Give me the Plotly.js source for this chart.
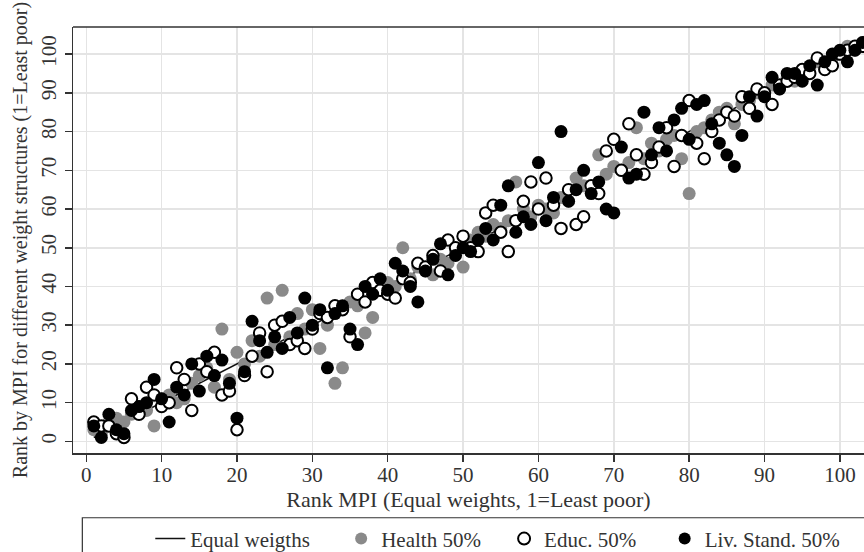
<!DOCTYPE html>
<html>
<head>
<meta charset="utf-8">
<script src="https://cdn.plot.ly/plotly-3.0.1.min.js"></script>
<style>
  body { margin: 0; background: #fff; }
  #chart { width: 864px; height: 552px; }
</style>
</head>
<body>
<div id="chart"></div>
<script>
// rank of each country under equal weights (1 = least poor)
var rank = [
    1,  2,  3,  4,  5,  6,  7,  8,  9, 10,
   11, 12, 13, 14, 15, 16, 17, 18, 19, 20,
   21, 22, 23, 24, 25, 26, 27, 28, 29, 30,
   31, 32, 33, 34, 35, 36, 37, 38, 39, 40,
   41, 42, 43, 44, 45, 46, 47, 48, 49, 50,
   51, 52, 53, 54, 55, 56, 57, 58, 59, 60,
   61, 62, 63, 64, 65, 66, 67, 68, 69, 70,
   71, 72, 73, 74, 75, 76, 77, 78, 79, 80,
   81, 82, 83, 84, 85, 86, 87, 88, 89, 90,
   91, 92, 93, 94, 95, 96, 97, 98, 99,100,
  101,102,103,104
];

// rank under the other weight structures
var health = [
    3,  2,  5,  6,  5,  7,  9,  8,  4, 11,
   12, 10, 11, 15, 17, 19, 14, 29, 16, 23,
   20, 26, 22, 37, 25, 39, 27, 33, 29, 34,
   24, 30, 15, 19, 36, 35, 28, 32, 39, 41,
   40, 50, 42, 45, 44, 43, 47, 46, 49, 45,
   52, 54, 53, 56, 55, 57, 67, 60, 58, 61,
   60, 59, 63, 62, 68, 66, 65, 74, 69, 71,
   70, 72, 81, 73, 77, 75, 78, 79, 73, 64,
   80, 81, 83, 85, 86, 82, 87, 88, 90, 89,
   92, 91, 94, 93, 95, 96, 98, 97, 99,100,
  102,101,103,104
];
var educ = [
    5,  4,  4,  2,  1, 11,  7, 14, 12,  9,
   10, 19, 16,  8, 20, 18, 23, 12, 13,  3,
   17, 22, 28, 18, 30, 31, 25, 26, 24, 29,
   33, 32, 35, 34, 27, 38, 36, 41, 39, 38,
   37, 42, 41, 46, 45, 48, 44, 52, 50, 53,
   50, 49, 59, 61, 54, 49, 57, 62, 67, 60,
   68, 61, 55, 65, 56, 58, 66, 64, 75, 78,
   70, 82, 74, 69, 72, 76, 81, 71, 79, 88,
   77, 73, 80, 83, 85, 84, 89, 86, 91, 90,
   87, 92, 93, 94, 96, 95, 99, 96, 97,100,
  101,102,102,104
];
var livstand = [
    4,  1,  7,  3,  2,  8,  9, 10, 16, 11,
    5, 14, 12, 20, 13, 22, 17, 21, 15,  6,
   18, 31, 26, 23, 27, 24, 32, 28, 37, 30,
   34, 19, 33, 35, 29, 25, 40, 38, 42, 39,
   46, 44, 40, 36, 44, 47, 51, 43, 48, 50,
   49, 52, 55, 52, 61, 66, 54, 58, 56, 72,
   57, 63, 80, 62, 65, 70, 64, 67, 60, 59,
   76, 68, 69, 85, 74, 81, 75, 83, 86, 78,
   87, 88, 82, 77, 74, 71, 79, 89, 84, 89,
   94, 91, 95, 95, 93, 97, 92, 98,100,101,
   98,101,103,104
];

var serif = 'Liberation Serif, Times New Roman, serif';
var ink = '#333333';

// diagonal: equal weights ranked against itself
var trace1 = {
  x: rank, y: rank,
  type: 'scatter', mode: 'lines',
  name: 'Equal weigths',
  line: {color: '#111', width: 1.5},
  legend: 'legend'
};
var trace2 = {
  x: rank, y: health,
  type: 'scatter', mode: 'markers',
  name: 'Health 50%',
  marker: {color: '#8a8a8a', size: 13},
  legend: 'legend2'
};
var trace3 = {
  x: rank, y: educ,
  type: 'scatter', mode: 'markers',
  name: 'Educ. 50%',
  marker: {color: '#fff', size: 11.5, line: {color: '#000', width: 2}},
  legend: 'legend3'
};
var trace4 = {
  x: rank, y: livstand,
  type: 'scatter', mode: 'markers',
  name: 'Liv. Stand. 50%',
  marker: {color: '#000', size: 13},
  legend: 'legend4'
};
var data = [trace1, trace2, trace3, trace4];

var axisStyle = {
  showline: true, linecolor: ink, linewidth: 1.5,
  ticks: 'outside', ticklen: 7, tickwidth: 1.5, tickcolor: ink,
  showgrid: true, gridcolor: '#e4e4e4', gridwidth: 1.5,
  zeroline: false,
  tick0: 0, dtick: 10,
  tickfont: {family: serif, size: 21, color: ink}
};

// one small legend per entry so each sits where the original has it
function legendAt(x, sizing) {
  return {
    orientation: 'h', x: x, xanchor: 'left', y: -0.1536, yanchor: 'top',
    bgcolor: 'rgba(0,0,0,0)', borderwidth: 0, itemsizing: sizing,
    font: {family: serif, size: 21, color: ink}
  };
}

var layout = {
  width: 864, height: 552,
  margin: {l: 73, r: 0, t: 27, b: 99, autoexpand: false},
  paper_bgcolor: '#fff', plot_bgcolor: '#fff',
  font: {family: serif, color: ink},
  xaxis: Object.assign({}, axisStyle, {
    range: [-1.76, 103.2],
    ticklabelstandoff: -5,
    title: {text: 'Rank MPI (Equal weights, 1=Least poor)', font: {family: serif, size: 22, color: ink}, standoff: 2}
  }),
  yaxis: Object.assign({}, axisStyle, {
    range: [-3, 107],
    tickangle: -90,
    title: {text: 'Rank by MPI for different weight structures (1=Least poor)', font: {family: serif, size: 20, color: ink}, standoff: 4}
  }),
  legend: legendAt(0.0977, 'trace'),
  legend2: legendAt(0.339, 'constant'),
  legend3: legendAt(0.545, 'constant'),
  legend4: legendAt(0.748, 'constant'),
  shapes: [
    // top frame of the plot region
    {type: 'line', xref: 'paper', yref: 'paper', x0: 0, x1: 1, y0: 1, y1: 1,
     line: {color: ink, width: 1.5}},
    // box round the legend
    {type: 'rect', xref: 'paper', yref: 'paper', x0: 0.0118, x1: 1.05, y0: -0.152, y1: -0.4,
     line: {color: ink, width: 1.2}}
  ],
  showlegend: true
};

Plotly.newPlot('chart', data, layout, {displayModeBar: false, staticPlot: true});
</script>
</body>
</html>
